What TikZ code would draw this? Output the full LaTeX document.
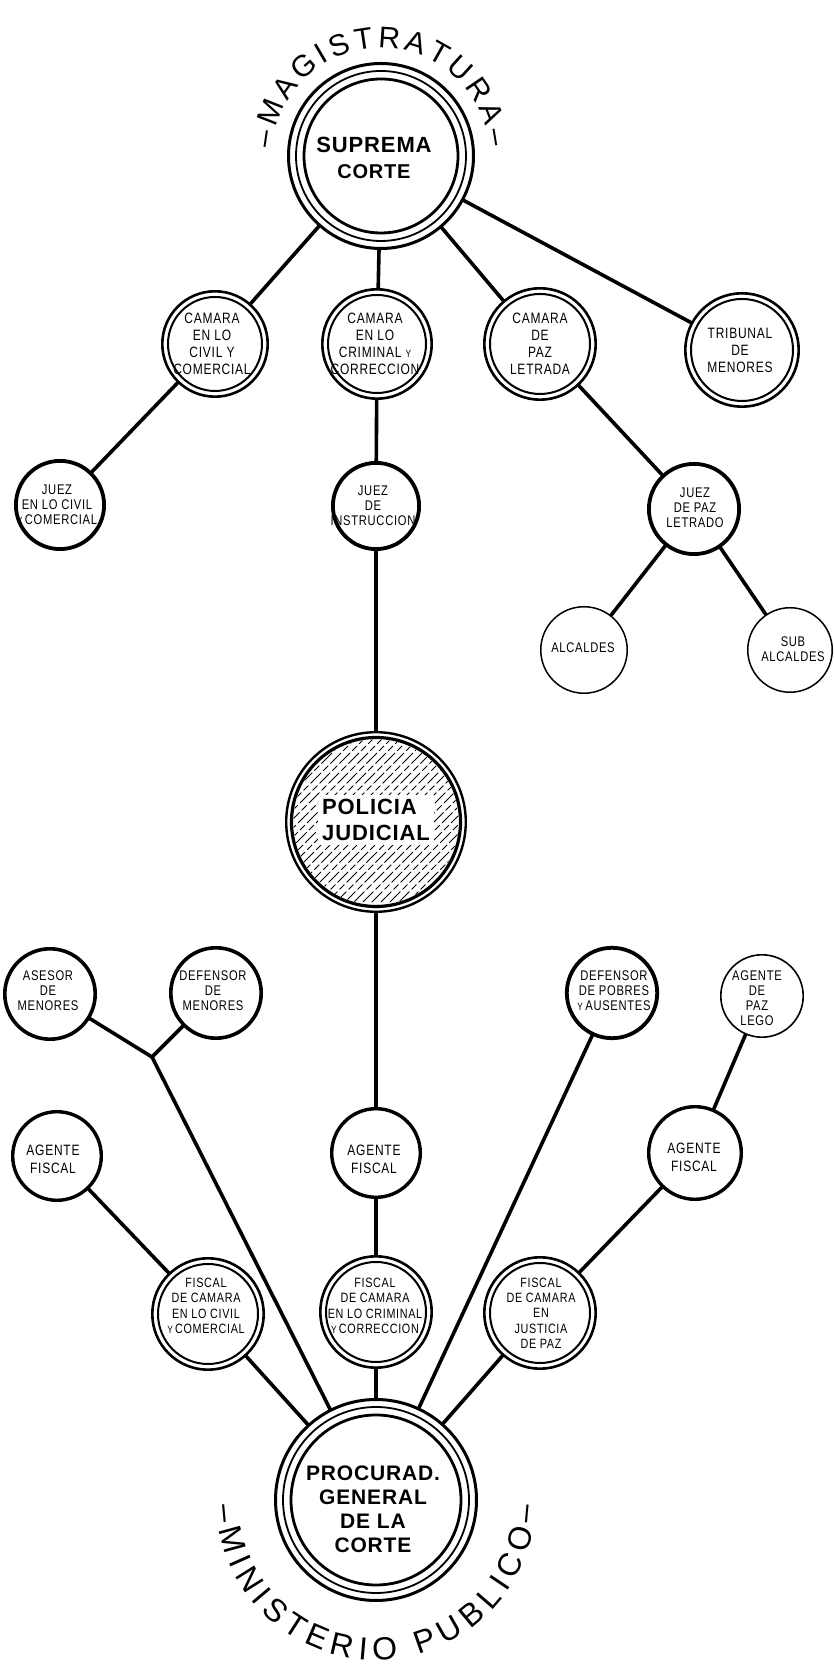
\documentclass[tikz,border=0pt]{standalone}
\usepackage{fontspec}
\setmainfont{Liberation Sans}
\newfontfamily\lblfam[FakeStretch=0.8,LetterSpace=5]{Liberation Sans}
\newfontfamily\boldfam[LetterSpace=4]{Liberation Sans}
\usetikzlibrary{decorations.text}
\pgfdeclarelayer{bg}
\pgfsetlayers{bg,main}
\newcommand\lblfont{\lblfam\fontsize{15}{17}\selectfont}
\newcommand\jzfont{\lblfam\fontsize{14}{15}\selectfont}
\newcommand\fsfont{\lblfam\fontsize{13.5}{15.3}\selectfont}
\newcommand\agfont{\lblfam\fontsize{15}{18}\selectfont}
\newcommand\bigfont{\boldfam\bfseries\fontsize{22}{26}\selectfont}
\newcommand\procfont{\boldfam\bfseries\fontsize{21}{24}\selectfont}
\newcommand\arcA{\fontsize{30}{30}\selectfont}
\newcommand\arcB{\fontsize{32}{32}\selectfont}
\newcommand\smY{{\fontsize{10.5}{10}\selectfont Y}}
\begin{document}
\begin{tikzpicture}[x=1pt,y=1pt]
\tikzset{
 cbase/.style={circle, draw=black, fill=white, inner sep=0pt},
 conn/.style={line width=3.6pt, line cap=round},
 lbl/.style={align=center, inner sep=0pt, font=\lblfont},
 hatchln/.style={line width=0.75pt, dash pattern=on 15pt off 3pt on 7pt off 3pt},
}
\useasboundingbox (0,0) rectangle (834,1667);

% Suprema Corte
\node[cbase, line width=3pt, minimum size=185pt] (sup) at (381,1511) {};
\draw[line width=1.8pt] (sup.center) circle (85pt);
\draw[line width=2.8pt] (sup.center) circle (77pt);
\node[font=\bigfont, align=center, inner sep=0pt] (supt) at (374,1509) {SUPREMA\\{\fontsize{20}{26}\selectfont CORTE}};
\path[decorate, decoration={text along path, text={|\arcA|–MAGISTRATURA–}, text align={fit to path}}]
  ([shift={(176:108pt)}]sup.center) arc[start angle=176, end angle=5, radius=108pt];

% Camaras
\node[cbase, line width=2.6pt, minimum size=105.4pt] (cc) at (215,1323) {};
\draw[line width=2pt] (cc.center) circle (47pt);
\node[lbl] (cct) at (212,1323) {CAMARA\\EN LO\\CIVIL Y\\COMERCIAL};

\node[cbase, line width=2.6pt, minimum size=109.4pt] (ccr) at (377,1323) {};
\draw[line width=2pt] (ccr.center) circle (49pt);
\node[lbl] (ccrt) at (375,1323) {CAMARA\\EN LO\\CRIMINAL \smY\\CORRECCION};

\node[cbase, line width=2.6pt, minimum size=111.4pt] (cpaz) at (540,1323) {};
\draw[line width=2pt] (cpaz.center) circle (50pt);
\node[lbl] (cpazt) at (540,1323) {CAMARA\\DE\\PAZ\\LETRADA};

\node[cbase, line width=2.6pt, minimum size=113.4pt] (trib) at (742,1317) {};
\draw[line width=2pt] (trib.center) circle (51pt);
\node[lbl] (tribt) at (740,1317) {TRIBUNAL\\DE\\MENORES};

% Jueces
\node[cbase, line width=3.8pt, minimum size=88.2pt] (jc) at (60,1162) {};
\node[lbl, font=\jzfont] (jct) at (57,1162) {JUEZ\\EN LO CIVIL\\\smY\,COMERCIAL};
\node[cbase, line width=3.8pt, minimum size=86.2pt] (ji) at (376,1161) {};
\node[lbl, font=\jzfont] (jit) at (373,1161) {JUEZ\\DE\\INSTRUCCION};
\node[cbase, line width=3.8pt, minimum size=90.2pt] (jp) at (694,1158) {};
\node[lbl, font=\jzfont] (jpt) at (695,1159) {JUEZ\\DE PAZ\\LETRADO};

% Alcaldes
\node[cbase, line width=1.5pt, minimum size=86.5pt] (alc) at (584,1017) {};
\node[lbl, font=\jzfont] (alct) at (583,1019) {ALCALDES};
\node[cbase, line width=1.5pt, minimum size=84.5pt] (sub) at (790,1017) {};
\node[lbl, font=\jzfont] (subt) at (793,1018) {SUB\\ALCALDES};

% Policia judicial
\node[cbase, line width=2.4pt, minimum size=179.6pt] (pol) at (376,845) {};
\draw[line width=3.2pt] (pol.center) circle (84.5pt);
\begin{scope}
 \clip (pol.center) circle (82.5pt);
 \foreach \c in {-176,-167,...,176}
   \draw[hatchln, shift={(pol.center)}] (\c-100,-100) -- ++(200,200);
\end{scope}
\node[font=\bigfont, align=left, fill=white, inner sep=4pt] (polt) at (376,847) {POLICIA\\JUDICIAL};

% Ministerio publico, upper row
\node[cbase, line width=3.6pt, minimum size=90.4pt] (ase) at (50,673) {};
\node[lbl, font=\jzfont] (aset) at (48,676) {ASESOR\\DE\\MENORES};
\node[cbase, line width=3.6pt, minimum size=90.4pt] (defm) at (216,674) {};
\node[lbl, font=\jzfont] (defmt) at (213,676) {DEFENSOR\\DE\\MENORES};
\coordinate (jn) at (152,610);
\node[cbase, line width=3.8pt, minimum size=90.4pt] (defp) at (612,674) {};
\node[lbl, font=\jzfont] (defpt) at (614,676) {DEFENSOR\\DE POBRES\\\smY\,AUSENTES};
\node[cbase, line width=1.6pt, minimum size=82.4pt] (lego) at (762,671) {};
\node[lbl, font=\jzfont] (legot) at (757,669) {AGENTE\\DE\\PAZ\\LEGO};

% Agentes fiscales
\node[cbase, line width=3.4pt, minimum size=88.6pt] (afl) at (57,511) {};
\node[lbl, font=\agfont] (aflt) at (53,508) {AGENTE\\FISCAL};
\node[cbase, line width=3.4pt, minimum size=88.6pt] (afm) at (376,514) {};
\node[lbl, font=\agfont] (afmt) at (374,508) {AGENTE\\FISCAL};
\node[cbase, line width=3.4pt, minimum size=92.6pt] (afr) at (695,514) {};
\node[lbl, font=\agfont] (afrt) at (694,510) {AGENTE\\FISCAL};

% Fiscales de camara
\node[cbase, line width=2.6pt, minimum size=111.4pt] (fcc) at (208,353) {};
\draw[line width=2pt] (fcc.center) circle (50pt);
\node[lbl, font=\fsfont] (fcct) at (206,361) {FISCAL\\DE CAMARA\\EN LO CIVIL\\\smY\,COMERCIAL};
\node[cbase, line width=2.6pt, minimum size=111.4pt] (fcr) at (376,355) {};
\draw[line width=2pt] (fcr.center) circle (50pt);
\node[lbl, font=\fsfont] (fcrt) at (375,361) {FISCAL\\DE CAMARA\\EN LO CRIMINAL\\\smY\,CORRECCION};
\node[cbase, line width=2.6pt, minimum size=111.4pt] (fpz) at (540,354) {};
\draw[line width=2pt] (fpz.center) circle (50pt);
\node[lbl, font=\fsfont] (fpzt) at (541,354) {FISCAL\\DE CAMARA\\EN\\JUSTICIA\\DE PAZ};

% Procurador
\node[cbase, line width=3pt, minimum size=201pt] (proc) at (376,167) {};
\draw[line width=1.8pt] (proc.center) circle (93pt);
\draw[line width=2.8pt] (proc.center) circle (85pt);
\node[font=\procfont, align=center, inner sep=0pt] (proct) at (373,158) {PROCURAD.\\GENERAL\\DE LA\\CORTE};
\path[decorate, decoration={text along path, text={|\arcB|–MINISTERIO PUBLICO–}, text align={fit to path}}]
  ([shift={(182:160pt)}]proc.center) arc[start angle=182, end angle=358, radius=160pt];

% Connectors (behind the circles)
\begin{pgfonlayer}{bg}
\fill[white] (0,0) rectangle (834,1667);
\draw[conn] (sup) -- (cc);
\draw[conn] (sup) -- (ccr);
\draw[conn] (sup) -- (cpaz);
\draw[conn] (sup) -- (trib);
\draw[conn] (cc) -- (jc);
\draw[conn] (ccr) -- (ji);
\draw[conn] (cpaz) -- (jp);
\draw[conn] (jp) -- (alc);
\draw[conn] (jp) -- (sub);
\draw[conn] (ji) -- (pol);
\draw[conn] (pol) -- (afm);
\draw[conn] (afm) -- (fcr);
\draw[conn] (fcr) -- (proc);
\draw[conn] (afl) -- (fcc);
\draw[conn] (fcc) -- (proc);
\draw[conn] (ase) -- (jn);
\draw[conn] (defm) -- (jn);
\draw[conn] (jn) -- (proc);
\draw[conn] (defp) -- (proc);
\draw[conn] (lego) -- (afr);
\draw[conn] (afr) -- (fpz);
\draw[conn] (fpz) -- (proc);
\end{pgfonlayer}
\end{tikzpicture}
\end{document}
